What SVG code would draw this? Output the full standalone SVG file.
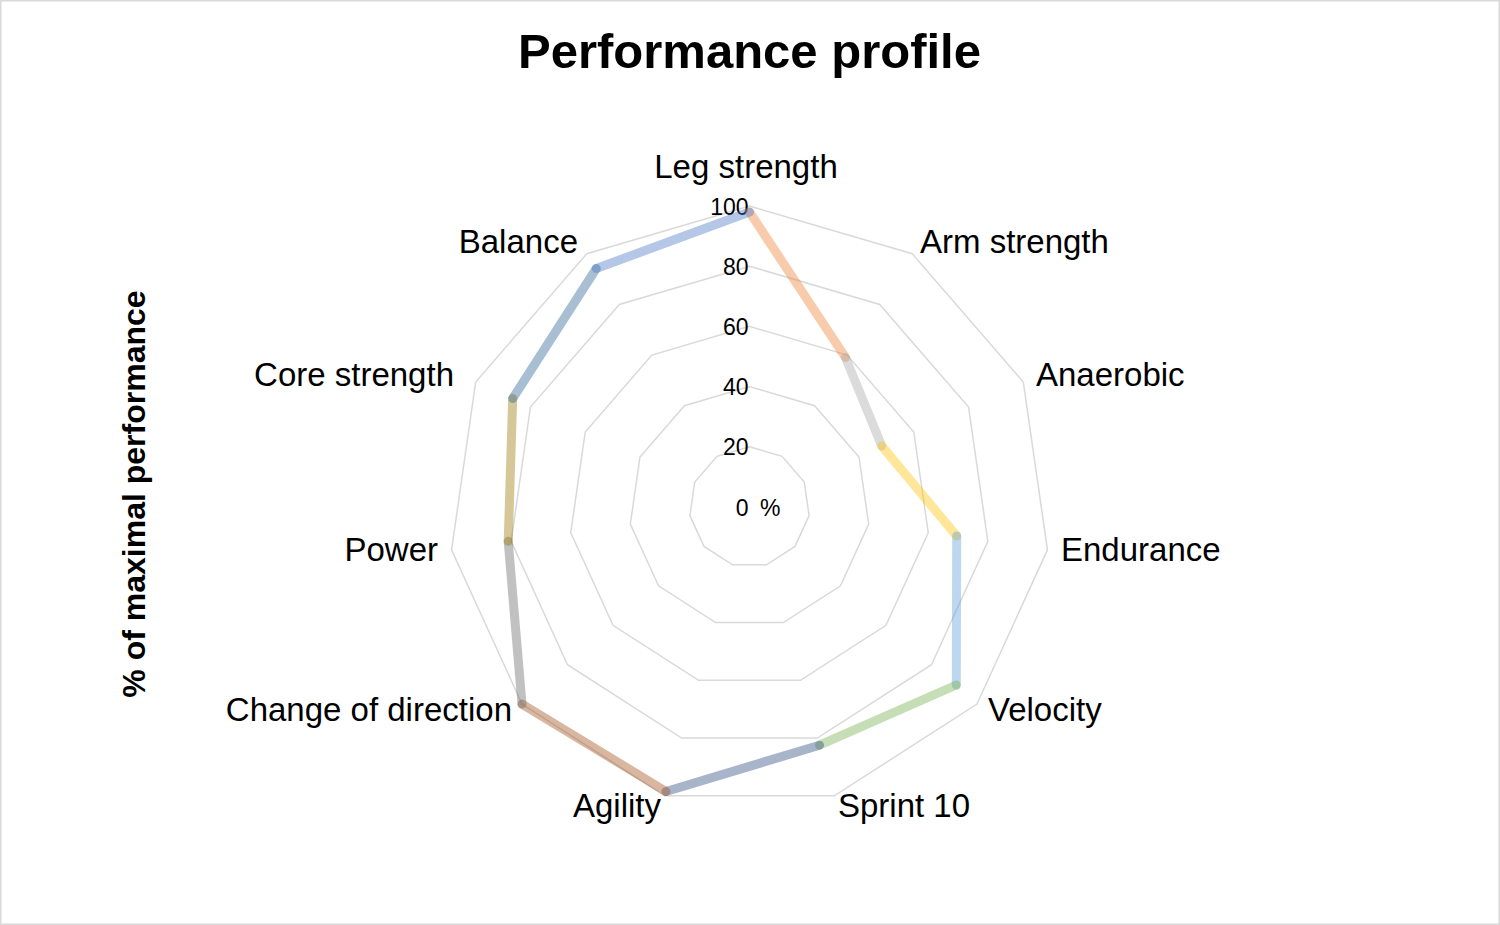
<svg xmlns="http://www.w3.org/2000/svg" width="1500" height="925" viewBox="0 0 1500 925">
<style>
.grid{fill:none;stroke:#d9d9d9;stroke-width:1.5}
.seg{stroke-width:9;stroke-linecap:round;stroke-opacity:0.4;fill:none}
.cat{font-family:"Liberation Sans",Arial,sans-serif;font-size:33px;fill:#000}
.tick{font-family:"Liberation Sans",Arial,sans-serif;font-size:23px;fill:#000;text-anchor:end}
.title{font-family:"Liberation Sans",Arial,sans-serif;font-size:49px;font-weight:bold;fill:#000;text-anchor:middle}
.ytitle{font-family:"Liberation Sans",Arial,sans-serif;font-size:32px;font-weight:bold;fill:#000;text-anchor:middle}
</style>
<rect x="0" y="0" width="1500" height="925" fill="#ffffff"/>
<rect x="0.75" y="0.75" width="1498.5" height="923.5" fill="none" stroke="#d9d9d9" stroke-width="1.5"/>
<text class="title" x="749.5" y="68">Performance profile</text>
<text class="ytitle" transform="translate(145,494) rotate(-90)">% of maximal performance</text>
<g id="grid">
<polygon class="grid" points="749.5,446.8 782.05,456.36 804.26,481.99 809.09,515.57 795,546.42 766.46,564.76 732.54,564.76 704,546.42 689.91,515.57 694.74,481.99 716.95,456.36"/>
<polygon class="grid" points="749.5,386.6 814.59,405.71 859.02,456.98 868.67,524.13 840.49,585.85 783.42,622.52 715.58,622.52 658.51,585.85 630.33,524.13 639.98,456.98 684.41,405.71"/>
<polygon class="grid" points="749.5,326.4 847.14,355.07 913.78,431.97 928.26,532.7 885.99,625.27 800.38,680.28 698.62,680.28 613.01,625.27 570.74,532.7 585.22,431.97 651.86,355.07"/>
<polygon class="grid" points="749.5,266.2 879.69,304.43 968.54,406.97 987.85,541.27 931.48,664.69 817.34,738.05 681.66,738.05 567.52,664.69 511.15,541.27 530.46,406.97 619.31,304.43"/>
<polygon class="grid" points="749.5,206 912.23,253.78 1023.3,381.96 1047.44,549.84 976.98,704.11 834.3,795.81 664.7,795.81 522.02,704.11 451.56,549.84 475.7,381.96 586.77,253.78"/>
</g>
<g id="ticks">
<text class="tick" x="748.5" y="214.5">100</text>
<text class="tick" x="748.5" y="274.7">80</text>
<text class="tick" x="748.5" y="335">60</text>
<text class="tick" x="748.5" y="395">40</text>
<text class="tick" x="748.5" y="455.3">20</text>
<text class="tick" x="748.5" y="515.5">0</text>
<text class="tick" x="760" y="515.5" style="text-anchor:start">%</text>
</g>
<g id="connectors">
<line class="seg" stroke="#ED7D31" x1="749.5" y1="212" x2="845.5" y2="357.6"/>
<line class="seg" stroke="#A5A5A5" x1="845.5" y1="357.6" x2="881.8" y2="446"/>
<line class="seg" stroke="#FFC000" x1="881.8" y1="446" x2="956.7" y2="536"/>
<line class="seg" stroke="#5B9BD5" x1="956.7" y1="536" x2="956.3" y2="685"/>
<line class="seg" stroke="#70AD47" x1="956.3" y1="685" x2="819.5" y2="745.2"/>
<line class="seg" stroke="#264478" x1="819.5" y1="745.2" x2="666" y2="791.5"/>
<line class="seg" stroke="#9E480E" x1="666" y1="791.5" x2="522" y2="704.1"/>
<line class="seg" stroke="#636363" x1="522" y1="704.1" x2="508.2" y2="541.3"/>
<line class="seg" stroke="#997300" x1="508.2" y1="541.3" x2="512.7" y2="398.5"/>
<line class="seg" stroke="#255E91" x1="512.7" y1="398.5" x2="596.3" y2="268.5"/>
<line class="seg" stroke="#4472C4" x1="596.3" y1="268.5" x2="749.5" y2="212"/>
</g>
<g id="label-leg-strength"><text class="cat" x="746" y="178" text-anchor="middle">Leg strength</text></g>
<g id="label-arm-strength"><text class="cat" x="920" y="253">Arm strength</text></g>
<g id="label-anaerobic"><text class="cat" x="1036" y="386">Anaerobic</text></g>
<g id="label-endurance"><text class="cat" x="1061" y="560.5">Endurance</text></g>
<g id="label-velocity"><text class="cat" x="988" y="721">Velocity</text></g>
<g id="label-sprint-10"><text class="cat" x="838" y="817">Sprint 10</text></g>
<g id="label-agility"><text class="cat" x="661" y="817" text-anchor="end">Agility</text></g>
<g id="label-change-of-direction"><text class="cat" x="512" y="721" text-anchor="end">Change of direction</text></g>
<g id="label-power"><text class="cat" x="438" y="560.5" text-anchor="end">Power</text></g>
<g id="label-core-strength"><text class="cat" x="454" y="386" text-anchor="end">Core strength</text></g>
<g id="label-balance"><text class="cat" x="578" y="253" text-anchor="end">Balance</text></g>
</svg>
